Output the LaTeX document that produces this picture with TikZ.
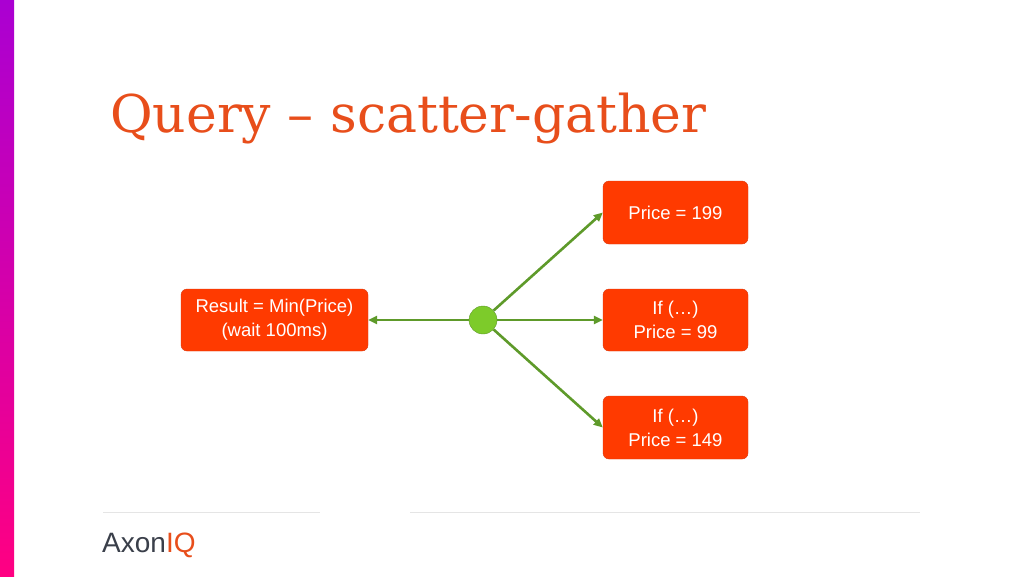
\documentclass[tikz,border=0pt]{standalone}
\usepackage{fontspec}
\setmainfont{Liberation Sans}
\newfontfamily\titlefont{DejaVu Serif}
\usetikzlibrary{arrows.meta}
\definecolor{boxred}{HTML}{FF3A00}
\definecolor{boxedge}{HTML}{D93A10}
\definecolor{titleorange}{HTML}{E84E1B}
\definecolor{arrowgreen}{HTML}{5E9A2A}
\definecolor{dotgreen}{HTML}{7DCB2A}
\definecolor{logogray}{HTML}{3A3F4A}
\begin{document}
\begin{tikzpicture}[x=1pt,y=-1pt,
  box/.style={draw=boxedge,fill=boxred,rounded corners=6pt,text=white,align=center,font=\fontsize{18.5}{24}\selectfont,inner sep=0pt},
  conn/.style={draw=arrowgreen,line width=2.6pt,-{Triangle[length=9pt,width=8pt]}}]
\useasboundingbox (0,0) rectangle (1024,576);
\fill[white] (0,0) rectangle (1024,576);
\shade[top color={rgb,255:red,170;green,0;blue,210},bottom color={rgb,255:red,255;green,0;blue,130}] (0,0) rectangle (14,576);
\node[anchor=base west,text=titleorange,font=\titlefont\fontsize{52}{60}\selectfont,inner sep=0pt] (title) at (110,132) {Query – scatter-gather};
\node[box,minimum width=145pt,minimum height=63pt] (p1) at (675.5,212.5) {Price = 199};
\node[box,minimum width=145pt,minimum height=62pt] (p2) at (675.5,320) {If (…)\\Price = 99};
\node[box,minimum width=145pt,minimum height=63pt] (p3) at (675.5,427.5) {If (…)\\Price = 149};
\node[box,minimum width=187pt,minimum height=62pt] (res) at (274.5,320) {Result = Min(Price)\\(wait 100ms)};
\node[circle,draw=arrowgreen,fill=dotgreen,minimum size=28pt,inner sep=0pt] (hub) at (483,320) {};
\draw[conn] (hub) -- (p1.west);
\draw[conn] (hub) -- (p2.west);
\draw[conn] (hub) -- (p3.west);
\draw[conn] (hub) -- (res.east);
\coordinate (l1a) at (103,512); \coordinate (l1b) at (320,512);
\coordinate (l2a) at (410,512); \coordinate (l2b) at (920,512);
\draw[black!10,line width=0.8pt] (l1a) -- (l1b);
\draw[black!10,line width=0.8pt] (l2a) -- (l2b);
\node[anchor=west,inner sep=0pt,font=\fontsize{28}{32}\selectfont] (logo) at (102,545) {\textcolor{logogray}{Axon}\textcolor{titleorange}{IQ}};
\end{tikzpicture}
\end{document}
